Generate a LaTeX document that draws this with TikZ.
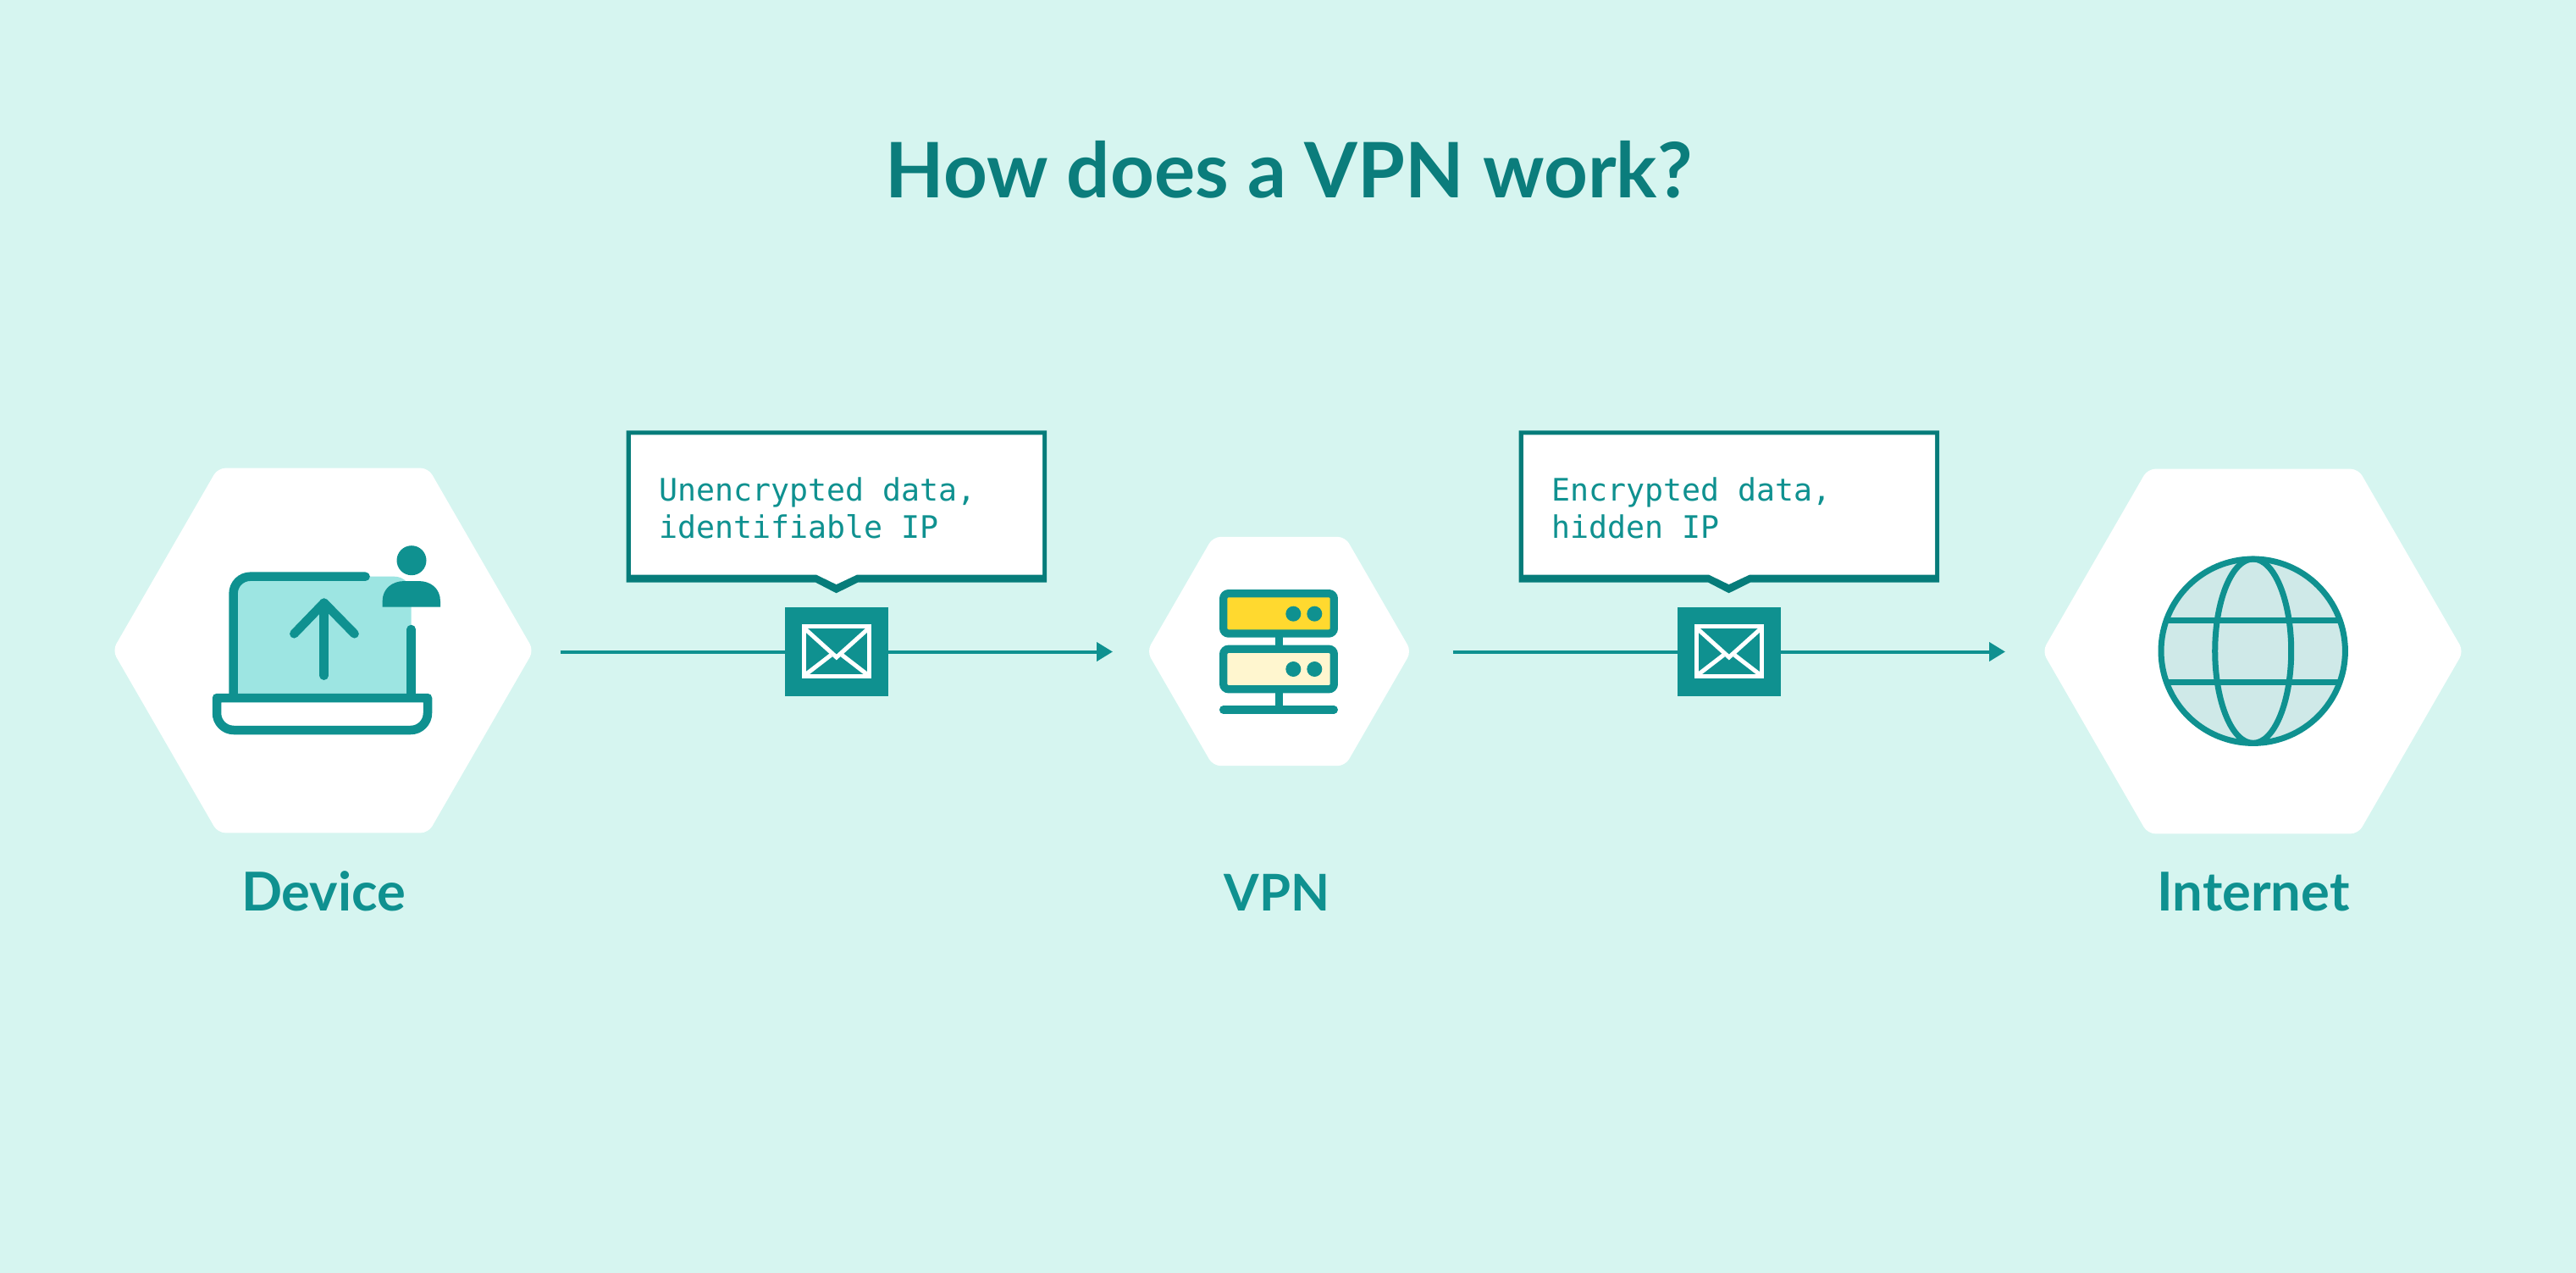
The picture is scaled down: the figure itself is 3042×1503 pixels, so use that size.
\documentclass[tikz,border=0pt]{standalone}
\usepackage{fontspec}
\usetikzlibrary{shapes.geometric,arrows.meta}
\newfontfamily\headfont{Lato}
\newfontfamily\calloutfont{DejaVu Sans Mono}
\definecolor{bgmint}{HTML}{D6F5F0}
\definecolor{tealmain}{HTML}{0F9190}
\definecolor{tealdark}{HTML}{067C7A}
\definecolor{titleteal}{HTML}{0B7D7C}
\definecolor{screenmint}{HTML}{9DE5E2}
\definecolor{globemint}{HTML}{CFE9E8}
\definecolor{ledyellow}{HTML}{FFD92F}
\definecolor{ledcream}{HTML}{FFF6CF}
\tikzset{
	hexnode/.style={regular polygon,regular polygon sides=6,fill=white,inner sep=0pt,outer sep=0pt,rounded corners=0.09cm},
	mailnode/.style={fill=tealmain,inner sep=0pt,outer sep=0pt,minimum width=1.22cm,minimum height=1.045cm},
	mailline/.style={draw=white,line width=0.05cm},
	wireline/.style={draw=tealmain,line width=0.04cm},
	iconline/.style={draw=tealmain,line width=0.105cm},
	titletext/.style={text=titleteal,font=\headfont\bfseries\fontsize{25.7}{30}\selectfont,inner sep=0pt,anchor=base},
	labeltext/.style={text=tealmain,font=\headfont\bfseries\fontsize{18}{20}\selectfont,inner sep=0pt,anchor=base},
	callouttext/.style={text=tealmain,font=\calloutfont\fontsize{10.4}{12.5}\selectfont,inner sep=0pt,anchor=west,align=left},
	endtip/.style={-{Triangle[length=0.19cm,width=0.22cm]}}
}
\begin{document}
\begin{tikzpicture}[x=0.01cm,y=-0.01cm]
	\useasboundingbox (0,0) rectangle (3042,1503);
	\fill[bgmint] (0,0) rectangle (3042,1503);
	\node[titletext] (title) at (1522,234) {How does a VPN work?};
	\node[hexnode,minimum size=4.97cm] (device) at (381.5,768) {};
	\node[hexnode,minimum size=3.12cm] (vpn) at (1510.5,769) {};
	\node[hexnode,minimum size=4.97cm] (internet) at (2660.5,769) {};
	\node[labeltext] (devicelabel) at (382,1075.7) {Device};
	\node[labeltext,font=\headfont\bfseries\fontsize{17}{20}\selectfont] (vpnlabel) at (1508,1075.7) {VPN};
	\node[labeltext] (internetlabel) at (2661,1075.7) {Internet};

	\fill[screenmint,rounded corners=0.2cm] (275.6,750) -- (275.6,680.7) -- (485.7,680.7) -- (485.7,750) [sharp corners] -- (485.7,824) -- (275.6,824) -- cycle;
	\draw[iconline,line cap=round,rounded corners=0.2cm] (275.6,824) -- (275.6,680.7) -- (431.6,680.7);
	\draw[iconline,line cap=round] (485.7,743) -- (485.7,824);
	\draw[iconline,fill=white,line join=round] (380.5,824) -- (505,824) [rounded corners=0.2cm] -- (505,862) -- (256,862) [sharp corners] -- (256,824) -- cycle;
	\draw[iconline,line cap=round,line join=round] (347.3,748.3) -- (382.7,711.7) -- (418.6,748.3);
	\draw[iconline,line cap=round] (382.7,711.7) -- (382.7,797.7);
	\fill[tealmain] (486,661.7) circle (17.5);
	\fill[tealmain] (451.6,716.7) -- (451.6,710) .. controls (451.6,695) and (463,686) .. (478,686) -- (494,686) .. controls (509,686) and (520,695) .. (520,710) -- (520,716.7) -- cycle;

	\fill[tealdark] (739.6,508.3) -- (1236,508.3) -- (1236,687.5) -- (1013.3,687.5) -- (987.6,700.3) -- (962.8,687.5) -- (739.6,687.5) -- cycle;
	\fill[white] (745,513.3) -- (1231,513.3) -- (1231,678.5) -- (1012,678.5) -- (987.6,690) -- (964,678.5) -- (745,678.5) -- cycle;
	\node[callouttext] (textA) at (778,600) {Unencrypted data,\\identifiable IP};
	\coordinate (startA) at (661.6,769.5);
	\coordinate (endA) at (1314,769.5);
	\node[mailnode] (mailA) at (988,769.5) {};
	\draw[wireline] (startA) -- (mailA);
	\draw[wireline,endtip] (mailA) -- (endA);
	\draw[mailline] (949,739.8) rectangle (1026.7,798.5);
	\draw[mailline] (949,741) -- (987.8,776) -- (1026.7,741);
	\draw[mailline] (981.4,773.3) -- (951,796.7);
	\draw[mailline] (994.2,773.3) -- (1024.6,796.7);

	\fill[ledyellow] (1444.7,700.7) rectangle (1575.3,748);
	\fill[ledcream] (1444.7,766.3) rectangle (1575.3,813.7);
	\draw[iconline,line width=0.093cm,rounded corners=0.06cm] (1444.7,700.7) rectangle (1575.3,748);
	\draw[iconline,line width=0.093cm,rounded corners=0.06cm] (1444.7,766.3) rectangle (1575.3,813.7);
	\draw[iconline,line width=0.093cm] (1510.3,752) -- (1510.3,762);
	\draw[iconline,line width=0.093cm] (1510.3,818) -- (1510.3,838);
	\draw[iconline,line width=0.093cm,line cap=round] (1444.6,838) -- (1575.3,838);
	\fill[tealmain] (1527.3,724.7) circle (9);
	\fill[tealmain] (1552.3,724.7) circle (9);
	\fill[tealmain] (1527.3,790) circle (9);
	\fill[tealmain] (1552.3,790) circle (9);

	\fill[tealdark] (1793.6,508.3) -- (2290,508.3) -- (2290,687.5) -- (2067.3,687.5) -- (2041.6,700.3) -- (2016.8,687.5) -- (1793.6,687.5) -- cycle;
	\fill[white] (1799,513.3) -- (2285,513.3) -- (2285,678.5) -- (2066,678.5) -- (2041.6,690) -- (2018,678.5) -- (1799,678.5) -- cycle;
	\node[callouttext] (textB) at (1832,600) {Encrypted data,\\hidden IP};
	\coordinate (startB) at (1715.6,769.5);
	\coordinate (endB) at (2368,769.5);
	\node[mailnode] (mailB) at (2042,769.5) {};
	\draw[wireline] (startB) -- (mailB);
	\draw[wireline,endtip] (mailB) -- (endB);
	\draw[mailline] (2003,739.8) rectangle (2080.7,798.5);
	\draw[mailline] (2003,741) -- (2041.8,776) -- (2080.7,741);
	\draw[mailline] (2035.4,773.3) -- (2005,796.7);
	\draw[mailline] (2048.2,773.3) -- (2078.6,796.7);

	\draw[iconline,line width=0.07cm,fill=globemint] (2660.7,768.7) circle (108.7);
	\draw[iconline,line width=0.07cm] (2660.7,768.7) ellipse (45 and 108.7);
	\draw[iconline,line width=0.07cm] (2558.3,732.3) -- (2763.1,732.3);
	\draw[iconline,line width=0.07cm] (2558.3,805) -- (2763.1,805);
\end{tikzpicture}
\end{document}
